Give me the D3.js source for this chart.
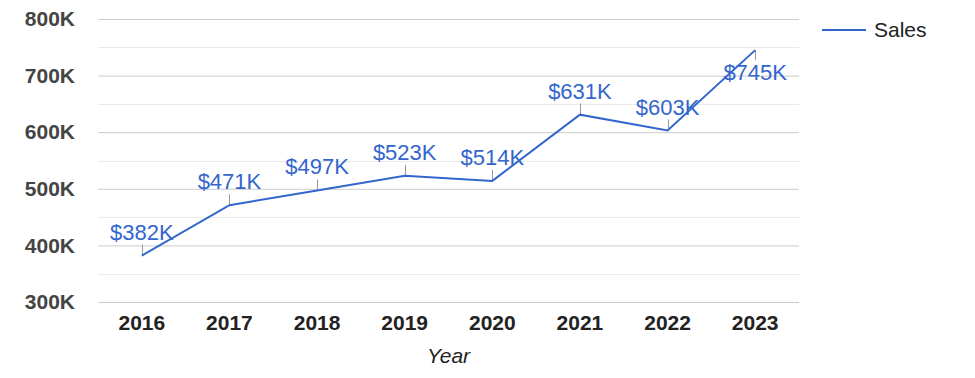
<!DOCTYPE html>
<html>
<head>
<meta charset="utf-8">
<script src="https://cdn.jsdelivr.net/npm/d3@7"></script>
<style>
  body { margin: 0; background: #fff; }
  text { font-family: Arial, "Liberation Sans", sans-serif; }
</style>
</head>
<body>
<svg id="main_svg" width="975" height="378"></svg>
<script>
let years = ["2016", "2017", "2018", "2019", "2020", "2021", "2022", "2023"]
let sales = [382, 471, 497, 523, 514, 631, 603, 745]
let yTicks = [300, 400, 500, 600, 700, 800]
let seriesName = "Sales"

let plotLeft = 98
let plotRight = 799
let plotTop = 19
let plotBottom = 302
let blue = "#3366cc"

let svg = d3.select("#main_svg")

let x = d3.scaleBand()
    .domain(years)
    .range([plotLeft, plotRight])

let y = d3.scaleLinear()
    .domain([300, 800])
    .range([plotBottom, plotTop])

// minor gridlines halfway between the majors
let minor = yTicks.slice(0, -1).map(d => d + 50)
svg.append("g")
    .selectAll("line")
    .data(minor)
    .join("line")
    .attr("x1", plotLeft)
    .attr("x2", plotRight)
    .attr("y1", d => Math.round(y(d)) + 0.5)
    .attr("y2", d => Math.round(y(d)) + 0.5)
    .attr("stroke", "#ebebeb")

let yAxis = svg.append("g")
    .attr("transform", "translate(" + plotLeft + ",0)")
    .call(d3.axisLeft(y).tickValues(yTicks).tickSize(-(plotRight - plotLeft)).tickPadding(23).tickFormat(d => d + "K"))
yAxis.select(".domain").remove()
yAxis.selectAll(".tick line").attr("stroke", "#cccccc")
yAxis.selectAll(".tick text")
    .attr("fill", "#444444")
    .attr("font-size", 21)
    .attr("font-weight", "bold")
    .attr("font-family", "Arial, 'Liberation Sans', sans-serif")

let xAxis = svg.append("g")
    .attr("transform", "translate(0," + plotBottom + ")")
    .call(d3.axisBottom(x).tickSize(0).tickPadding(13))
xAxis.select(".domain").remove()
xAxis.selectAll(".tick text")
    .attr("fill", "#222222")
    .attr("font-size", 21)
    .attr("font-weight", "bold")
    .attr("font-family", "Arial, 'Liberation Sans', sans-serif")

svg.append("text")
    .attr("x", (plotLeft + plotRight) / 2)
    .attr("y", 363)
    .attr("text-anchor", "middle")
    .attr("font-size", 21)
    .attr("font-style", "italic")
    .attr("fill", "#222222")
    .text("Year")

let cx = d => x(d) + x.bandwidth() / 2

let line = d3.line()
    .x((d, i) => cx(years[i]))
    .y(d => y(d))

// label goes below the point when there is no room above
let below = (d) => y(d) - 36 < plotTop

svg.append("g")
    .selectAll("line")
    .data(sales)
    .join("line")
    .attr("x1", (d, i) => Math.round(cx(years[i])) + 0.5)
    .attr("x2", (d, i) => Math.round(cx(years[i])) + 0.5)
    .attr("y1", d => y(d))
    .attr("y2", d => below(d) ? y(d) + 10 : y(d) - 11)
    .attr("stroke", "#999999")

svg.append("path")
    .datum(sales)
    .attr("d", line)
    .attr("fill", "none")
    .attr("stroke", blue)
    .attr("stroke-width", 2)

svg.append("g")
    .selectAll("text")
    .data(sales)
    .join("text")
    .attr("x", (d, i) => cx(years[i]))
    .attr("y", d => below(d) ? y(d) + 30 : y(d) - 16)
    .attr("text-anchor", "middle")
    .attr("font-size", 22)
    .attr("fill", blue)
    .text(d => "$" + d + "K")

// legend
let legend = svg.append("g")
legend.append("line")
    .attr("x1", 822)
    .attr("x2", 866)
    .attr("y1", 30)
    .attr("y2", 30)
    .attr("stroke", blue)
    .attr("stroke-width", 2)
legend.append("text")
    .attr("x", 874)
    .attr("y", 37)
    .attr("font-size", 21)
    .attr("fill", "#222222")
    .text(seriesName)
</script>
</body>
</html>
